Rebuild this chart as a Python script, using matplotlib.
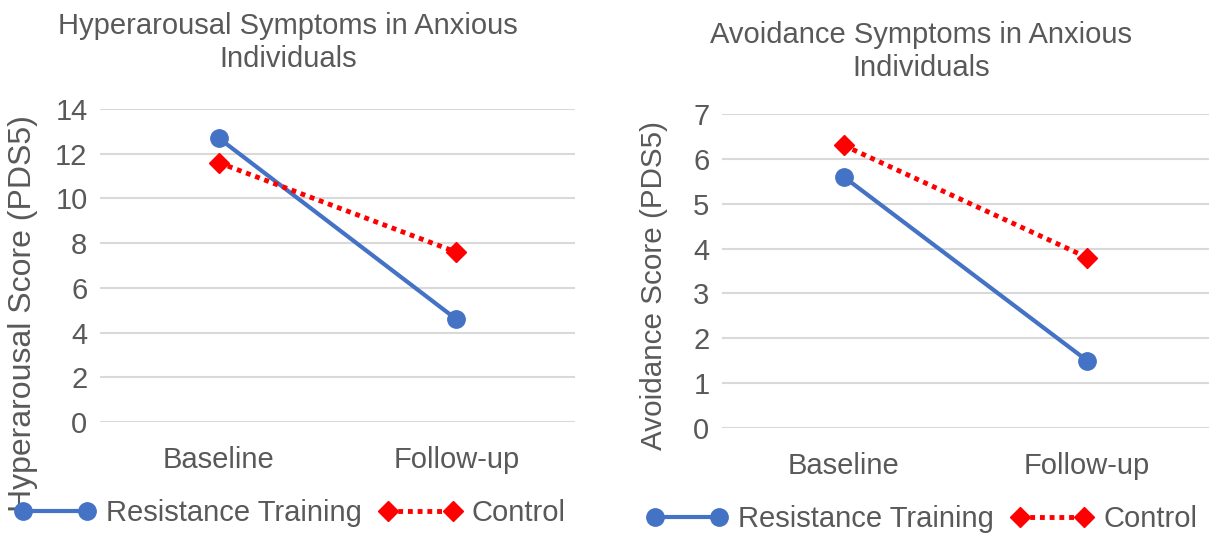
import matplotlib
matplotlib.use("Agg")
import matplotlib.pyplot as plt

plt.rcParams['font.family'] = ['Liberation Sans', 'DejaVu Sans']

timepoints = ['Baseline', 'Follow-up']
hyper_rt = [12.7, 4.6]
hyper_ctrl = [11.6, 7.6]
avoid_rt = [5.6, 1.5]
avoid_ctrl = [6.3, 3.8]

grey = '#595959'
blue = '#4472C4'
red = '#FF0000'

fig = plt.figure(figsize=(12.09, 5.33), dpi=100)
ax1 = fig.add_axes([100 / 1209, 1 - 422 / 533, 475 / 1209, 313 / 533])
ax2 = fig.add_axes([722 / 1209, 1 - 428 / 533, 487 / 1209, 314 / 533])


def draw(ax, rt, ctrl, ymax, title, ylabel, lab_size, lab_xy, title_x, title_pad, leg_x):
    x = [0.5, 1.5]
    ax.plot(x, rt, color=blue, lw=3, marker='o', ms=12.5, label='Resistance Training',
            solid_capstyle='round')
    ax.plot(x, ctrl, color=red, lw=3.5, ls=(0, (1, 1)), marker='D', ms=10,
            label='Control', dash_capstyle='butt')
    ax.set_xlim(0, 2)
    ax.set_ylim(0, ymax)
    ax.set_xticks(x)
    ax.set_xticklabels(timepoints)
    ax.grid(axis='y', color='#D9D9D9', lw=1.5)
    ax.set_axisbelow(True)
    for s in ax.spines.values():
        s.set_visible(False)
    ax.tick_params(axis='both', length=0, labelsize=21, labelcolor=grey)
    ax.tick_params(axis='y', pad=9)
    ax.tick_params(axis='x', pad=17)
    ax.set_title(title, fontsize=21, color=grey, x=title_x, pad=title_pad,
                 linespacing=1.25)
    ax.set_ylabel(ylabel, fontsize=lab_size, color=grey)
    ax.yaxis.set_label_coords(*lab_xy)
    ax.legend(loc='center', bbox_to_anchor=(leg_x, -0.29), ncol=2, frameon=False,
              fontsize=21, labelcolor=grey, numpoints=2, handlelength=2.8,
              handletextpad=0.35, columnspacing=0.6)


draw(ax1, hyper_rt, hyper_ctrl, 14,
     'Hyperarousal Symptoms in Anxious\nIndividuals',
     'Hyperarousal Score (PDS5)', 23, (-0.13, 0.345), 0.396, 30, 0.40)
ax1.set_yticks(range(0, 15, 2))
draw(ax2, avoid_rt, avoid_ctrl, 7,
     'Avoidance Symptoms in Anxious\nIndividuals',
     'Avoidance Score (PDS5)', 21.3, (-0.111, 0.455), 0.409, 27, 0.41)
ax2.set_yticks(range(0, 8))

fig.savefig('out.png', dpi=100)
